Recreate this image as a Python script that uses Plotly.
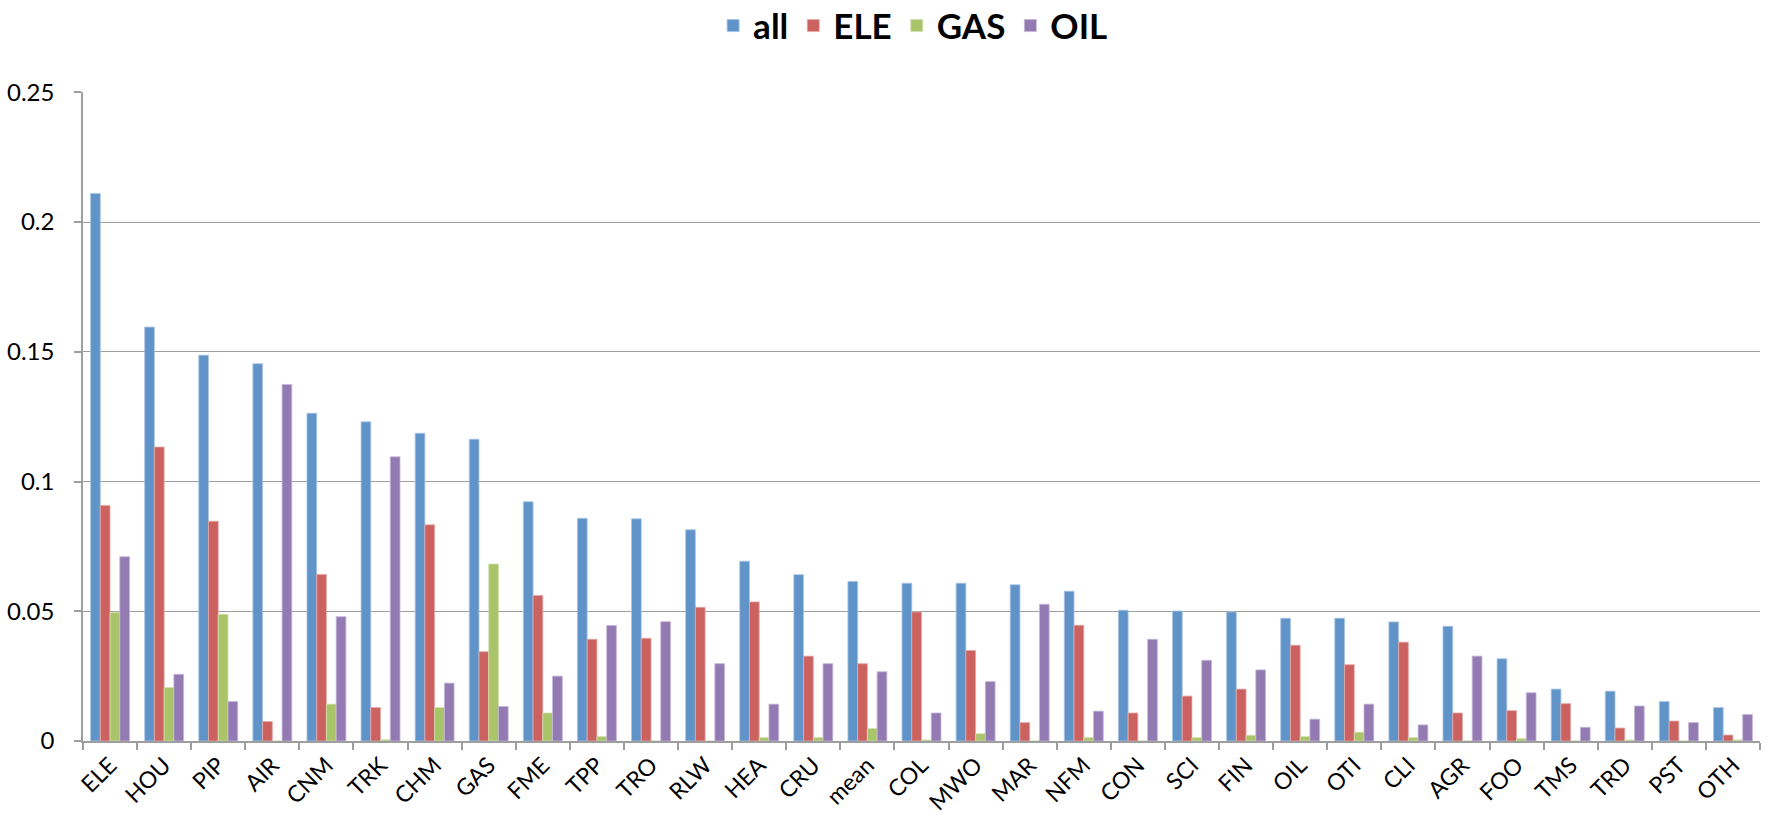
import plotly.graph_objects as go

# Sectors, ordered by the "all" value
categories = ["ELE", "HOU", "PIP", "AIR", "CNM", "TRK", "CHM", "GAS", "FME", "TPP",
              "TRO", "RLW", "HEA", "CRU", "mean", "COL", "MWO", "MAR", "NFM", "CON",
              "SCI", "FIN", "OIL", "OTI", "CLI", "AGR", "FOO", "TMS", "TRD", "PST", "OTH"]

all_vals = [0.2110, 0.1595, 0.1487, 0.1454, 0.1263, 0.1230, 0.1186, 0.1163, 0.0922, 0.0858,
            0.0856, 0.0814, 0.0693, 0.0641, 0.0615, 0.0608, 0.0608, 0.0602, 0.0577, 0.0504,
            0.0501, 0.0497, 0.0473, 0.0473, 0.0459, 0.0442, 0.0317, 0.0200, 0.0192, 0.0152, 0.0129]

ele_vals = [0.0908, 0.1133, 0.0847, 0.0075, 0.0642, 0.0129, 0.0833, 0.0344, 0.0561, 0.0392,
            0.0396, 0.0515, 0.0536, 0.0327, 0.0298, 0.0497, 0.0349, 0.0071, 0.0446, 0.0108,
            0.0173, 0.0200, 0.0369, 0.0294, 0.0381, 0.0108, 0.0117, 0.0144, 0.0050, 0.0077, 0.0023]

gas_vals = [0.0495, 0.0206, 0.0488, 0.0000, 0.0142, 0.0005, 0.0129, 0.0682, 0.0108, 0.0017,
            0.0000, 0.0000, 0.0013, 0.0013, 0.0048, 0.0004, 0.0028, 0.0000, 0.0013, 0.0000,
            0.0013, 0.0022, 0.0017, 0.0034, 0.0013, 0.0000, 0.0009, 0.0000, 0.0004, 0.0000, 0.0004]

oil_vals = [0.0710, 0.0257, 0.0152, 0.1374, 0.0479, 0.1095, 0.0223, 0.0133, 0.0250, 0.0445,
            0.0460, 0.0298, 0.0142, 0.0298, 0.0267, 0.0108, 0.0229, 0.0527, 0.0115, 0.0392,
            0.0311, 0.0274, 0.0084, 0.0142, 0.0062, 0.0327, 0.0186, 0.0053, 0.0135, 0.0071, 0.0102]

series = [
    ("all", all_vals, "#6094C8", "#A9C5E4"),
    ("ELE", ele_vals, "#CB625F", "#E6AAA8"),
    ("GAS", gas_vals, "#AAC46A", "#D2E0AE"),
    ("OIL", oil_vals, "#937AB2", "#C5B8D8"),
]

FONT = "Lato, 'Open Sans', sans-serif"
GRID = "#9E9E9E"

fig = go.Figure()
for name, vals, fill, edge in series:
    fig.add_trace(go.Bar(
        x=categories, y=vals, name=name,
        marker=dict(color=fill, line=dict(color=edge, width=0.8)),
    ))

fig.update_layout(
    width=1767, height=822,
    margin=dict(l=83, r=7, t=92, b=81, autoexpand=False),
    paper_bgcolor="white", plot_bgcolor="white",
    barmode="group", bargap=0.28, bargroupgap=0,
    font=dict(family=FONT, color="black", size=23),
    legend=dict(
        orientation="h", x=0.495, xanchor="center", y=1.102, yanchor="middle",
        font=dict(family=FONT, size=35, color="black", weight="bold"),
        itemwidth=30, bgcolor="rgba(0,0,0,0)",
    ),
    xaxis=dict(
        type="category", tickangle=-45, showline=True, linecolor=GRID, linewidth=1.5,
        ticks="outside", tickson="boundaries", ticklen=7, tickcolor=GRID, tickwidth=1.5,
        showgrid=False, tickfont=dict(family=FONT, size=23),
    ),
    yaxis=dict(
        range=[0, 0.2501], dtick=0.05, tick0=0, showline=True, linecolor=GRID, linewidth=1.5,
        ticks="outside", ticklen=7, tickcolor=GRID, tickwidth=1.5,
        showgrid=True, gridcolor=GRID, gridwidth=1.3, zeroline=False,
        tickfont=dict(family=FONT, size=24), ticklabelstandoff=15,
    ),
)

fig.write_html("out.html")
